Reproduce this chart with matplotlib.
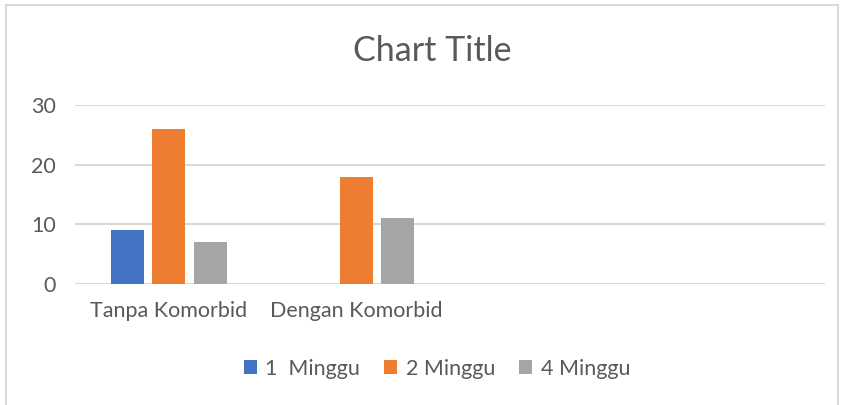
import matplotlib.pyplot as plt
import numpy as np
from matplotlib.patches import Rectangle

plt.rcParams['font.family'] = ['Lato', 'DejaVu Sans']

# ---------------------------------------------------------
# data
# ---------------------------------------------------------
categories = ["Tanpa Komorbid", "Dengan Komorbid", "", ""]
series_names = ["1  Minggu", "2 Minggu", "4 Minggu"]
minggu_1 = [9, np.nan, np.nan, np.nan]
minggu_2 = [26, 18, np.nan, np.nan]
minggu_4 = [7, 11, np.nan, np.nan]
colors = ["#4472C4", "#ED7D31", "#A5A5A5"]
text_col = "#595959"

fig = plt.figure(figsize=(8.44, 4.05), dpi=100)
ax = fig.add_axes([75 / 844, 121 / 405, 750 / 844, 179 / 405])

# outer chart border
fig.patches.append(Rectangle((6 / 844, -0.05), 832 / 844, 1.0 - 5 / 405 + 0.05,
                             transform=fig.transFigure, fill=False,
                             edgecolor="#D9D9D9", lw=1.5))

x = np.arange(len(categories))
width = 0.176
step = 0.221
for i, (vals, name) in enumerate(zip([minggu_1, minggu_2, minggu_4], series_names)):
    ax.bar(x + (i - 1) * step, vals, width, color=colors[i], label=name, zorder=3)

ax.set_xlim(-0.5, len(categories) - 0.5)
ax.set_ylim(0, 30)
ax.set_yticks([0, 10, 20, 30])
ax.grid(axis='y', color="#D9D9D9", lw=1.5, zorder=0)
ax.set_axisbelow(True)
for s in ax.spines.values():
    s.set_visible(False)
ax.tick_params(length=0, colors=text_col, labelsize=15.5)
ax.tick_params(axis='y', pad=14)
ax.tick_params(axis='x', pad=12)
ax.set_xticks(x)
ax.set_xticklabels(categories)

fig.text(432 / 844, 1 - 51 / 405, "Chart Title", ha='center', va='center',
         fontsize=24.5, color=text_col)

fig.legend(loc='center', bbox_to_anchor=(437 / 844, 1 - 369 / 405), ncol=3,
           frameon=False, fontsize=15.5, labelcolor=text_col, handlelength=0.62,
           handleheight=0.62, handletextpad=0.4, columnspacing=1.1)

fig.savefig("out.png", dpi=100)
